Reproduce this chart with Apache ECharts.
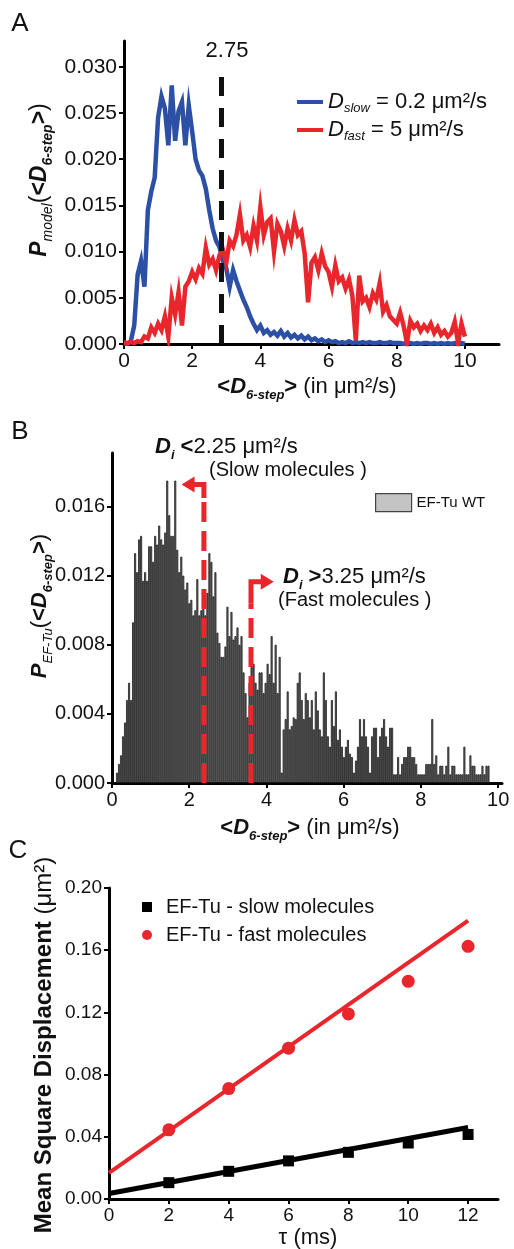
<!DOCTYPE html>
<html><head><meta charset="utf-8">
<script src="https://cdn.jsdelivr.net/npm/echarts@6/dist/echarts.min.js"></script>
<style>html,body{margin:0;padding:0;background:#fff}#c{width:514px;height:1249px}</style>
</head><body><div id="c"></div>
<script>
// ---------- Panel A data ----------
const aStep = 0.1;
const aBlue = [0,0,0.0003,0.0020,0.0075,0.0090,0.0062,0.0145,0.0165,0.0180,
0.0245,0.0268,0.0255,0.0215,0.0280,0.0220,0.0252,0.0262,0.0215,0.0258,
0.0230,0.0200,0.0188,0.0182,0.0168,0.0145,0.0125,0.0112,0.0105,0.0090,
0.0082,0.0062,0.0080,0.0068,0.0058,0.0048,0.0040,0.0030,0.0022,0.0015,
0.0020,0.0012,0.0015,0.0010,0.0013,0.0009,0.0014,0.0008,0.0012,0.0007,
0.0010,0.0006,0.0009,0.0005,0.0008,0.0004,0.0006,0.0003,0.0005,0.0002,
0.0004,0.0002,0.0003,0.0001,0.0002,0.0001,0.0003,0.0001,0.0002,0.0001,
0.0002,0.0001,0.0002,0.0001,0.0001,0.0002,0.0001,0.0001,0.0002,0.0001,
0.0001,0.0001,0,0.0001,0.0001,0,0.0001,0,0.0001,0.0001,
0,0.0001,0,0.0001,0,0.0001,0,0.0001,0,0.0001,0];
const aRed = [0.0002,0.0001,0.0002,0.0001,0.0003,0.0002,0.0008,0.0006,0.0018,0.0012,
0.0022,0.0015,0.0030,0.0008,0.0050,0.0032,0.0056,0.0020,0.0062,0.0068,
0.0078,0.0070,0.0082,0.0076,0.0104,0.0086,0.0092,0.0080,0.0096,0.0102,
0.0088,0.0112,0.0106,0.0118,0.0140,0.0112,0.0118,0.0105,0.0128,0.0112,
0.0148,0.0118,0.0132,0.0136,0.0100,0.0130,0.0122,0.0106,0.0125,0.0112,
0.0134,0.0118,0.0122,0.0098,0.0045,0.0088,0.0094,0.0080,0.0098,0.0084,
0.0078,0.0062,0.0085,0.0068,0.0072,0.0060,0.0070,0.0052,0.0004,0.0074,
0.0046,0.0050,0.0040,0.0055,0.0048,0.0066,0.0035,0.0042,0.0030,0.0026,
0.0022,0.0034,0.0020,0.0001,0.0025,0.0018,0.0022,0.0014,0.0020,0.0015,
0.0022,0.0012,0.0018,0.0010,0.0014,0.0008,0.0012,0.0024,0.0001,0.0022,0.0008];
const aCut = 2.86, aCutTop = 0.0293, aCutLabel = '2.75';
const aXTicks = [0,2,4,6,8,10];
const aYTicks = [0,0.005,0.010,0.015,0.020,0.025,0.030];

// ---------- Panel B data ----------
const bStart = 0.13, bBin = 0.052;
const bHist = [
0.0006,0.0011,0.0016,0.0027,0.0035,0.0048,0.0058,0.0048,0.0093,0.0133,
0.0122,0.0141,0.0143,0.0117,0.0122,0.0117,0.0137,0.0137,0.0128,0.0143,
0.0138,0.0149,0.0141,0.0138,0.0145,0.0175,0.0155,0.0143,0.0143,0.0175,
0.0135,0.0122,0.0131,0.0120,0.0112,0.0116,0.0104,0.0106,0.0097,0.0100,
0.0118,0.0097,0.0100,0.0106,0.0097,0.0110,0.0133,0.0128,0.0108,0.0122,
0.0087,0.0081,0.0073,0.0073,0.0079,0.0102,0.0085,0.0099,0.0083,0.0085,
0.0090,0.0080,
0.0085,0.0064,0.0052,0.0038,0.0058,0.0074,0.0069,0.0058,0.0054,0.0064,
0.0064,0.0052,0.0058,0.0069,0.0063,0.0085,0.0058,0.0080,0.0052,0.0073,
0.0006,0.0031,0.0037,0.0053,0.0031,0.0033,0.0038,0.0037,0.0058,0.0064,
0.0048,0.0037,0.0052,0.0048,0.0038,0.0048,0.0031,0.0053,0.0042,0.0031,
0.0027,0.0064,0.0048,0.0027,0.0021,0.0048,0.0033,0.0053,0.0025,0.0031,
0.0021,0.0015,0.0021,0.0025,0.0017,0.0015,0.0006,0.0013,0.0021,0.0037,0.0027,
0.0037,0.0027,0.0021,0.0006,0.0027,0.0032,0.0032,0.0015,0.0027,0.0032,
0.0037,0.0027,0.0021,0.0032,0.0032,0.0005,0.0005,0.0015,0.0005,0.0011,
0.0015,0.0015,0.0021,0.0021,0.0015,0.0015,0.0011,0.0005,0.0005,0.0005,
0.0005,0.0011,0.0011,0.0011,0.0037,0.0011,0.0016,0.0005,0.0010,0.0010,
0.0005,0.0010,0.0021,0.0005,0.0010,0.0010,0.0005,0.0005,0.0005,0.0005,
0.0021,0.0005,0.0005,0.0016,0.0010,0.0010,0.0005,0.0005,0.0005,0.0010,
0.0005,0.0010,0.0010];
const bSlowCut = 2.38, bSlowDashTop = 0.0165, bSlowElbow = 0.01728, bSlowHead = 1.97;
const bFastCut = 3.60, bFastDashTop = 0.0104, bFastElbow = 0.01165, bFastHead = 4.02;
const bXTicks = [0,2,4,6,8,10];
const bYTicks = [0,0.004,0.008,0.012,0.016];

// ---------- Panel C data ----------
const cTau = [2,4,6,8,10,12];
const cSlow = [0.0105,0.0178,0.0245,0.0300,0.0360,0.0415];
const cFast = [0.0445,0.0710,0.0970,0.1190,0.1400,0.1625];
const cFitX = [0,12];
const cSlowFit = [0.0035,0.0460];
const cFastFit = [0.0168,0.1790];
const cXTicks = [0,2,4,6,8,10,12];
const cYTicks = [0,0.04,0.08,0.12,0.16,0.20];

// ---------- build ----------
const FONT = "'Liberation Sans', Arial, Helvetica, sans-serif";
const BLUE = '#2c50a6', RED = '#e8262b';
function rich(big, small){
  big = big || 22; small = small || 13;
  return {
    n:{fontSize:big,fontFamily:FONT,lineHeight:big+8,color:'#111'},
    b:{fontSize:big,fontFamily:FONT,fontWeight:'bold',lineHeight:big+8,color:'#111'},
    bi:{fontSize:big,fontFamily:FONT,fontWeight:'bold',fontStyle:'italic',lineHeight:big+8,color:'#111'},
    bis:{fontSize:small,fontFamily:FONT,fontWeight:'bold',fontStyle:'italic',lineHeight:small,verticalAlign:'bottom',color:'#111'},
    is:{fontSize:small,fontFamily:FONT,fontStyle:'italic',lineHeight:small,verticalAlign:'bottom',color:'#111'}
  };
}

function axisCommon(ticks, fmt, fs){
  return {
    axisLine:{show:true,onZero:false,lineStyle:{color:'#000',width:3}},
    axisTick:{show:true,length:5,lineStyle:{color:'#000',width:2},customValues:ticks},
    axisLabel:{color:'#111',fontSize:fs,fontFamily:FONT,margin:7,customValues:ticks,formatter:fmt},
    splitLine:{show:false}
  };
}

const chart = echarts.init(document.getElementById('c'), null, {renderer:'canvas'});

function gtext(x,y,text,opts){
  return Object.assign({type:'text',x:x,y:y,style:Object.assign({text:text,fill:'#111',font:'22px '+FONT,align:'center',verticalAlign:'middle'}, opts&&opts.style||{})}, opts&&opts.el||{});
}
function grich(x,y,text,opts,big,small){
  const st = Object.assign({text:text,fill:'#111',fontSize:big||22,fontFamily:FONT,align:'center',verticalAlign:'middle',rich:rich(big,small)}, opts&&opts.style||{});
  return Object.assign({type:'text',x:x,y:y,style:st}, opts&&opts.el||{});
}

const option = {
  animation:false,
  backgroundColor:'#fff',
  grid:[
    {left:124,top:41,width:375,height:303},
    {left:112,top:453,width:390,height:330},
    {left:109,top:888,width:389,height:311}
  ],
  xAxis:[
    Object.assign({type:'value',gridIndex:0,min:0,max:11,interval:2}, axisCommon(aXTicks, v=>String(v), 21)),
    Object.assign({type:'value',gridIndex:1,min:0,max:10.1,interval:2}, axisCommon(bXTicks, v=>String(v), 20)),
    Object.assign({type:'value',gridIndex:2,min:0,max:13,interval:2}, axisCommon(cXTicks, v=>String(v), 19))
  ],
  yAxis:[
    Object.assign({type:'value',gridIndex:0,min:0,max:0.0328,interval:0.005}, axisCommon(aYTicks, v=>v.toFixed(3), 21)),
    Object.assign({type:'value',gridIndex:1,min:0,max:0.0191,interval:0.004}, axisCommon(bYTicks, v=>v.toFixed(3), 20)),
    Object.assign({type:'value',gridIndex:2,min:0,max:0.20,interval:0.04}, axisCommon(cYTicks, v=>v.toFixed(2), 19))
  ],
  legend:[
    {
      data:['Dslow','Dfast'], left:292, top:86, orient:'vertical', icon:'rect',
      itemWidth:26, itemHeight:4, itemGap:4, selectedMode:false,
      formatter:function(name){ return name==='Dslow' ? '{d|D}{s|slow}{t| = 0.2 μm²/s}' : '{d|D}{s|fast}{t| = 5 μm²/s}'; },
      textStyle:{fontFamily:FONT,rich:{
        d:{fontSize:22,fontStyle:'italic',fontFamily:FONT,lineHeight:26,color:'#111'},
        s:{fontSize:13,fontStyle:'italic',fontFamily:FONT,lineHeight:13,verticalAlign:'bottom',color:'#111'},
        t:{fontSize:22,fontFamily:FONT,lineHeight:26,color:'#111'}
      }}
    },
    {
      data:[{name:'EF-Tu WT',icon:'rect',itemStyle:{color:'#c4c4c4',borderColor:'#444',borderWidth:1.2}}],
      left:370, top:488, itemWidth:36, itemHeight:18, selectedMode:false, itemGap:0,
      textStyle:{fontSize:15,fontFamily:FONT,color:'#111'}
    },
    {
      data:[{name:'EF-Tu - slow molecules',icon:'rect'},{name:'EF-Tu - fast molecules',icon:'circle'}],
      left:137, top:892, orient:'vertical', itemWidth:10, itemHeight:10, itemGap:8, selectedMode:false,
      textStyle:{fontSize:20,fontFamily:FONT,color:'#111',padding:[0,0,0,9]}
    }
  ],
  series:[
    {name:'Dslow',type:'line',xAxisIndex:0,yAxisIndex:0,showSymbol:false,symbol:'none',
     data:aBlue.map((p,i)=>[i*aStep,p]),lineStyle:{color:BLUE,width:4.5,join:'miter'},itemStyle:{color:BLUE},z:3},
    {name:'Dfast',type:'line',xAxisIndex:0,yAxisIndex:0,showSymbol:false,symbol:'none',
     data:aRed.map((p,i)=>[i*aStep,p]),lineStyle:{color:RED,width:4.5,join:'miter'},itemStyle:{color:RED},z:4},
    {name:'cutA',type:'line',xAxisIndex:0,yAxisIndex:0,symbol:'none',
     data:[[aCut,0],[aCut,aCutTop]],lineStyle:{color:'#111',width:5,type:[19,12]},z:5},

    {name:'EF-Tu WT',type:'bar',xAxisIndex:1,yAxisIndex:1,barWidth:2,
     data:bHist.map((p,i)=>[bStart+i*bBin,p]),
     itemStyle:{color:'#6e6e6e',borderColor:'#1a1a1a',borderWidth:0.8},z:2},
    {name:'slowCut',type:'line',xAxisIndex:1,yAxisIndex:1,symbol:'none',
     data:[[bSlowCut,0],[bSlowCut,bSlowDashTop]],lineStyle:{color:RED,width:5,type:[20,9]},z:5},
    {name:'slowArrow',type:'line',xAxisIndex:1,yAxisIndex:1,
     data:[{value:[bSlowCut,bSlowDashTop],symbol:'none'},{value:[bSlowCut,bSlowElbow],symbol:'none'},
           {value:[bSlowHead,bSlowElbow],symbol:'triangle',symbolSize:[16,13],symbolRotate:90}],
     lineStyle:{color:RED,width:5,join:'miter'},itemStyle:{color:RED},z:6},
    {name:'fastCut',type:'line',xAxisIndex:1,yAxisIndex:1,symbol:'none',
     data:[[bFastCut,0],[bFastCut,bFastDashTop]],lineStyle:{color:RED,width:5,type:[20,9]},z:5},
    {name:'fastArrow',type:'line',xAxisIndex:1,yAxisIndex:1,
     data:[{value:[bFastCut,bFastDashTop],symbol:'none'},{value:[bFastCut,bFastElbow],symbol:'none'},
           {value:[bFastHead,bFastElbow],symbol:'triangle',symbolSize:[16,13],symbolRotate:-90}],
     lineStyle:{color:RED,width:5,join:'miter'},itemStyle:{color:RED},z:6},

    {name:'slowFit',type:'line',xAxisIndex:2,yAxisIndex:2,symbol:'none',
     data:cFitX.map((x,i)=>[x,cSlowFit[i]]),lineStyle:{color:'#000',width:5},z:3},
    {name:'fastFit',type:'line',xAxisIndex:2,yAxisIndex:2,symbol:'none',
     data:cFitX.map((x,i)=>[x,cFastFit[i]]),lineStyle:{color:RED,width:4},z:3},
    {name:'EF-Tu - slow molecules',type:'scatter',xAxisIndex:2,yAxisIndex:2,symbol:'rect',symbolSize:11,
     data:cTau.map((t,i)=>[t,cSlow[i]]),itemStyle:{color:'#000',opacity:1},z:4},
    {name:'EF-Tu - fast molecules',type:'scatter',xAxisIndex:2,yAxisIndex:2,symbol:'circle',symbolSize:13,
     data:cTau.map((t,i)=>[t,cFast[i]]),itemStyle:{color:RED,opacity:1},z:4}
  ],
  graphic:[
    gtext(20,24,'A',{style:{font:'26px '+FONT}}),
    gtext(20,432,'B',{style:{font:'26px '+FONT}}),
    gtext(18,851,'C',{style:{font:'26px '+FONT}}),
    gtext(227,51,aCutLabel,{style:{font:'22px '+FONT}}),
    grich(40,180,'{bi|P}{is|model}{n|(}{b|<}{bi|D}{bis|6-step}{b|>}{n|)}',{el:{rotation:Math.PI/2}},23,14),
    grich(307,387,'{b|<}{bi|D}{bis|6-step}{b|>}{n| (in μm²/s)}'),
    grich(40,606,'{bi|P}{is|EF-Tu}{n|(}{b|<}{bi|D}{bis|6-step}{b|>}{n|)}',{el:{rotation:Math.PI/2}}),
    grich(310,828,'{b|<}{bi|D}{bis|6-step}{b|>}{n| (in μm²/s)}'),
    grich(155,447,'{bi|D}{bis|i}{b| <}{n|2.25 μm²/s}',{style:{align:'left'}}),
    gtext(209,470,'(Slow molecules )',{style:{font:'20px '+FONT,align:'left'}}),
    grich(283,577,'{bi|D}{bis|i}{b| >}{n|3.25 μm²/s}',{style:{align:'left'}}),
    gtext(278,600,'(Fast molecules )',{style:{font:'20px '+FONT,align:'left'}}),
    grich(44,1045,'{b|Mean Square Displacement }{n|(μm²)}',{el:{rotation:Math.PI/2}},24,14),
    gtext(308,1238,'τ (ms)',{style:{font:'22px '+FONT}})
  ]
};
chart.setOption(option);
</script></body></html>
